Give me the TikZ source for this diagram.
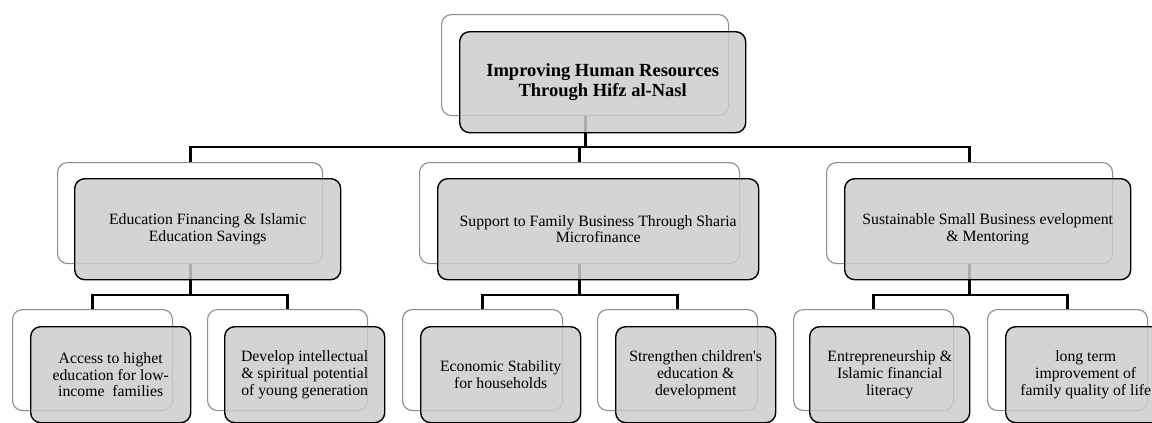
\documentclass[tikz,border=0pt]{standalone}
\usepackage{fontspec}
\setmainfont{Liberation Serif}
\definecolor{boxgray}{RGB}{204,204,204}
\definecolor{rimgray}{RGB}{140,140,140}
\begin{document}
\begin{tikzpicture}[x=1pt,y=-1pt,
  backbox/.style={draw=rimgray, line width=1.1pt, rounded corners=10pt,
    anchor=north west, minimum height=101pt, inner sep=0pt},
  frontbox/.style={draw=black, line width=1.4pt, rounded corners=10pt,
    fill=boxgray, fill opacity=0.85, text opacity=1, anchor=north west,
    minimum height=101pt, inner sep=0pt, align=center,
    font=\fontsize{15.75}{16.6}\selectfont},
  leafbox/.style={frontbox, minimum height=96pt},
  conn/.style={line width=2.9pt, line join=miter}]
\useasboundingbox (0,0) rectangle (1152,423);

% outline boxes behind each card
\node[backbox, minimum width=287pt] (top-b) at (441,14) {};
\node[backbox, minimum width=265pt] (l2a-b) at (57,162) {};
\node[backbox, minimum width=320pt] (l2b-b) at (419,162) {};
\node[backbox, minimum width=286pt] (l2c-b) at (826,162) {};
\node[backbox, minimum width=160pt] (a1-b) at (12,309) {};
\node[backbox, minimum width=160pt] (a2-b) at (207,309) {};
\node[backbox, minimum width=160pt] (b1-b) at (402,309) {};
\node[backbox, minimum width=160pt] (b2-b) at (597,309) {};
\node[backbox, minimum width=160pt] (c1-b) at (793,309) {};
\node[backbox, minimum width=160pt] (c2-b) at (987,309) {};

% bus lines
\coordinate (bus0) at (0,147);
\coordinate (bus1) at (0,295);
\draw[conn] (top-b.south) -- (top-b.south |- bus0);
\draw[conn] (l2a-b.north) -- (l2a-b.north |- bus0) -- (l2c-b.north |- bus0) -- (l2c-b.north);
\draw[conn] (l2b-b.north) -- (l2b-b.north |- bus0);

\draw[conn] (l2a-b.south) -- (l2a-b.south |- bus1);
\draw[conn] (a1-b.north) -- (a1-b.north |- bus1) -- (a2-b.north |- bus1) -- (a2-b.north);
\draw[conn] (l2b-b.south) -- (l2b-b.south |- bus1);
\draw[conn] (b1-b.north) -- (b1-b.north |- bus1) -- (b2-b.north |- bus1) -- (b2-b.north);
\draw[conn] (l2c-b.south) -- (l2c-b.south |- bus1);
\draw[conn] (c1-b.north) -- (c1-b.north |- bus1) -- (c2-b.north |- bus1) -- (c2-b.north);

% front cards with text
\node[frontbox, minimum width=286pt, font=\fontsize{18.5}{19.5}\selectfont\bfseries] (top) at (459,31)
  {Improving Human Resources\\Through Hifz al-Nasl};
\node[frontbox, minimum width=266pt] (l2a) at (74,178)
  {Education Financing \& Islamic\\Education Savings};
\node[frontbox, minimum width=321pt] (l2b) at (437,178)
  {Support to Family Business Through Sharia\\Microfinance};
\node[frontbox, minimum width=286pt] (l2c) at (844,178)
  {Sustainable Small Business evelopment\\\& Mentoring};
\node[leafbox, minimum width=160pt] (a1) at (30,326)
  {Access to highet\\education for low-\\income\ \ families};
\node[leafbox, minimum width=160pt] (a2) at (224,326)
  {Develop intellectual\\\& spiritual potential\\of young generation};
\node[leafbox, minimum width=160pt] (b1) at (420,326)
  {Economic Stability\\for households};
\node[leafbox, minimum width=160pt] (b2) at (615,326)
  {Strengthen children\textquotesingle s\\education \&\\development};
\node[leafbox, minimum width=160pt] (c1) at (809,326)
  {Entrepreneurship \&\\Islamic financial\\literacy};
\node[leafbox, minimum width=160pt] (c2) at (1005,326)
  {long term\\improvement of\\family quality of life};
\end{tikzpicture}
\end{document}
